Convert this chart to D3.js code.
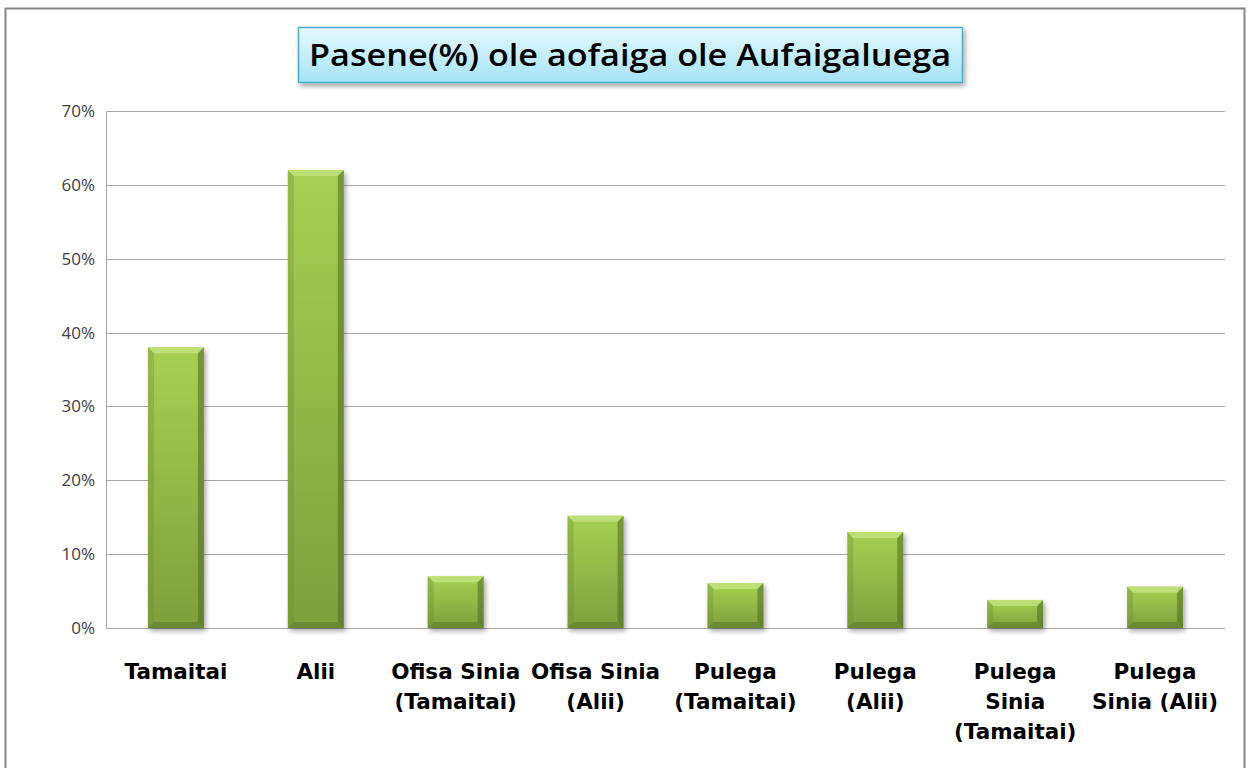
<!DOCTYPE html>
<html>
<head>
<meta charset="utf-8">
<script src="https://cdn.jsdelivr.net/npm/d3@7"></script>
<style>
  body { margin: 0; background: #fff; }
  svg { display: block; }
</style>
</head>
<body>
<div id="chart"></div>
<script>
// chart values
var categories = [
  ["Tamaitai"],
  ["Alii"],
  ["Ofisa Sinia", "(Tamaitai)"],
  ["Ofisa Sinia", "(Alii)"],
  ["Pulega", "(Tamaitai)"],
  ["Pulega", "(Alii)"],
  ["Pulega", "Sinia", "(Tamaitai)"],
  ["Pulega", "Sinia (Alii)"]
];
var values = [0.38, 0.62, 0.07, 0.152, 0.061, 0.13, 0.038, 0.056];
var yTicks = [0, 0.1, 0.2, 0.3, 0.4, 0.5, 0.6, 0.7];
var title = "Pasene(%) ole aofaiga ole Aufaigaluega";

var width = 1249, height = 768;
var margin = {top: 111, right: 24, bottom: 140, left: 106};

var svg = d3.select("#chart").append("svg")
  .attr("width", width)
  .attr("height", height);

var defs = svg.append("defs");

// gradient for the bars
var barGrad = defs.append("linearGradient")
  .attr("id", "barGrad").attr("x1", 0).attr("y1", 0).attr("x2", 0).attr("y2", 1);
barGrad.append("stop").attr("offset", "0%").attr("stop-color", "#a6d153");
barGrad.append("stop").attr("offset", "100%").attr("stop-color", "#7f9e3d");

// gradient for the title box
var titleGrad = defs.append("linearGradient")
  .attr("id", "titleGrad").attr("x1", 0).attr("y1", 0).attr("x2", 0).attr("y2", 1);
titleGrad.append("stop").attr("offset", "0%").attr("stop-color", "#e6f9fe");
titleGrad.append("stop").attr("offset", "100%").attr("stop-color", "#a5e3f6");

var shadow = defs.append("filter").attr("id", "shadow")
  .attr("x", "-10%").attr("y", "-10%").attr("width", "130%").attr("height", "140%");
shadow.append("feDropShadow").attr("dx", 2).attr("dy", 3)
  .attr("stdDeviation", 2.5).attr("flood-color", "#000").attr("flood-opacity", 0.35);

// outer chart frame
svg.append("rect")
  .attr("x", 5.5).attr("y", 8.5)
  .attr("width", 1239).attr("height", 780)
  .attr("fill", "#fff")
  .attr("stroke", "#868686")
  .attr("stroke-width", 2);

var x = d3.scaleBand()
  .domain(d3.range(categories.length))
  .range([margin.left, width - margin.right])
  .paddingInner(0.6)
  .paddingOuter(0.3);

var y = d3.scaleLinear()
  .domain([0, 0.7])
  .range([height - margin.bottom, margin.top]);

// gridlines
svg.append("g").selectAll("line.grid")
  .data(yTicks)
  .enter()
  .append("line")
  .attr("class", "grid")
  .attr("x1", margin.left)
  .attr("x2", width - margin.right)
  .attr("y1", function(d) { return Math.round(y(d)) + 0.5; })
  .attr("y2", function(d) { return Math.round(y(d)) + 0.5; })
  .attr("stroke", "#a6a6a6")
  .attr("stroke-width", 1);

// y axis line
svg.append("line")
  .attr("x1", margin.left + 0.5).attr("x2", margin.left + 0.5)
  .attr("y1", y(0.7)).attr("y2", y(0) + 0.5)
  .attr("stroke", "#a6a6a6");

// y tick labels
svg.append("g").selectAll("text.ytick")
  .data(yTicks)
  .enter()
  .append("text")
  .attr("class", "ytick")
  .attr("x", margin.left - 11)
  .attr("y", function(d) { return y(d); })
  .attr("dy", "0.35em")
  .attr("text-anchor", "end")
  .attr("font-family", "'Open Sans', sans-serif")
  .attr("font-size", "17px")
  .attr("fill", "#404040")
  .text(d3.format(".0%"));

// bars with a bevel look
var bars = svg.append("g").selectAll("g.bar")
  .data(values)
  .enter()
  .append("g")
  .attr("class", "bar")
  .attr("filter", "url(#shadow)");

bars.append("rect")
  .attr("x", function(d, i) { return x(i); })
  .attr("y", function(d) { return y(d); })
  .attr("width", x.bandwidth())
  .attr("height", function(d) { return y(0) - y(d); })
  .attr("fill", "url(#barGrad)");

var bev = 6;
// top facet
bars.append("path")
  .attr("d", function(d, i) {
    var x0 = x(i), x1 = x(i) + x.bandwidth(), t = y(d);
    var b = Math.min(bev, (y(0) - t) / 2);
    return "M" + x0 + "," + t + "L" + x1 + "," + t +
      "L" + (x1 - b) + "," + (t + b) + "L" + (x0 + b) + "," + (t + b) + "Z";
  })
  .attr("fill", "#c2e27a")
  .attr("opacity", 0.85);
// left facet
bars.append("path")
  .attr("d", function(d, i) {
    var x0 = x(i), t = y(d), bot = y(0);
    var b = Math.min(bev, (bot - t) / 2);
    return "M" + x0 + "," + t + "L" + (x0 + b) + "," + (t + b) +
      "L" + (x0 + b) + "," + (bot - b) + "L" + x0 + "," + bot + "Z";
  })
  .attr("fill", "#6f8f2f")
  .attr("opacity", 0.35);
// right facet
bars.append("path")
  .attr("d", function(d, i) {
    var x1 = x(i) + x.bandwidth(), t = y(d), bot = y(0);
    var b = Math.min(bev, (bot - t) / 2);
    return "M" + x1 + "," + t + "L" + (x1 - b) + "," + (t + b) +
      "L" + (x1 - b) + "," + (bot - b) + "L" + x1 + "," + bot + "Z";
  })
  .attr("fill", "#4f6a1f")
  .attr("opacity", 0.55);
// bottom facet
bars.append("path")
  .attr("d", function(d, i) {
    var x0 = x(i), x1 = x(i) + x.bandwidth(), t = y(d), bot = y(0);
    var b = Math.min(bev, (bot - t) / 2);
    return "M" + x0 + "," + bot + "L" + x1 + "," + bot +
      "L" + (x1 - b) + "," + (bot - b) + "L" + (x0 + b) + "," + (bot - b) + "Z";
  })
  .attr("fill", "#556f22")
  .attr("opacity", 0.45);

// category labels
var labels = svg.append("g").selectAll("text.xlabel")
  .data(categories)
  .enter()
  .append("text")
  .attr("class", "xlabel")
  .attr("text-anchor", "middle")
  .attr("font-family", "'DejaVu Sans', sans-serif")
  .attr("font-weight", "bold")
  .attr("font-size", "21.5px")
  .attr("fill", "#000");

labels.selectAll("tspan")
  .data(function(d, i) { return d.map(function(s) { return {s: s, i: i}; }); })
  .enter()
  .append("tspan")
  .attr("x", function(d) { return x(d.i) + x.bandwidth() / 2; })
  .attr("y", function(d, j) { return 679 + j * 30; })
  .text(function(d) { return d.s; });

// title box
var tb = svg.append("g");
tb.append("rect")
  .attr("x", 298.5).attr("y", 27.5)
  .attr("width", 664).attr("height", 55)
  .attr("fill", "url(#titleGrad)")
  .attr("stroke", "#4bacc6")
  .attr("stroke-width", 1.5)
  .attr("filter", "url(#shadow)");
tb.append("text")
  .attr("x", 630)
  .attr("y", 55)
  .attr("dy", "0.36em")
  .attr("text-anchor", "middle")
  .attr("font-family", "'Open Sans', sans-serif")
  .attr("font-weight", "600")
  .attr("font-size", "30px")
  .attr("textLength", 642)
  .attr("lengthAdjust", "spacingAndGlyphs")
  .attr("fill", "#000")
  .text(title);
</script>
</body>
</html>
